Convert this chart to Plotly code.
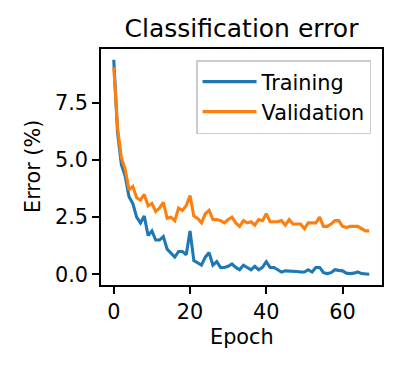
import plotly.graph_objects as go

epochs = list(range(68))
training = [9.4, 6.2, 4.8, 4.3, 3.4, 3.1, 2.5, 2.25, 2.55, 1.7,
            1.9, 1.5, 1.5, 1.65, 1.1, 0.9, 0.75, 1.0, 1.0, 0.85,
            1.9, 0.6, 0.5, 0.4, 0.75, 0.95, 0.4, 0.55, 0.3, 0.3,
            0.35, 0.45, 0.3, 0.2, 0.4, 0.3, 0.2, 0.35, 0.2, 0.3,
            0.55, 0.3, 0.3, 0.2, 0.1, 0.15, 0.15, 0.15, 0.12, 0.1,
            0.1, 0.2, 0.1, 0.3, 0.3, 0.07, 0.03, 0.07, 0.2, 0.17,
            0.15, 0.05, 0.03, 0.05, 0.1, 0.03, 0.0, 0.0]
validation = [9.07, 6.4, 5.1, 4.6, 3.7, 3.85, 3.35, 3.25, 3.5, 3.0,
              3.1, 2.75, 2.9, 3.15, 2.45, 2.5, 2.35, 2.9, 2.8, 3.0,
              3.45, 2.55, 2.45, 2.25, 2.65, 2.8, 2.4, 2.4, 2.35, 2.25,
              2.4, 2.5, 2.25, 2.1, 2.35, 2.25, 2.3, 2.15, 2.4, 2.35,
              2.65, 2.3, 2.3, 2.3, 2.35, 2.15, 2.4, 2.2, 2.2, 2.2,
              2.0, 2.25, 2.25, 2.25, 2.5, 2.1, 2.1, 2.2, 2.35, 2.35,
              2.1, 2.05, 2.1, 2.1, 2.1, 2.0, 1.9, 1.9]
x_ticks = [0, 20, 40, 60]
y_ticks = [0.0, 2.5, 5.0, 7.5]

FONT = "DejaVu Sans"

def padded(lo, hi, frac=0.05):
    r = hi - lo
    return [lo - frac * r, hi + frac * r]

fig = go.Figure()
fig.add_trace(go.Scatter(x=epochs, y=training, mode="lines", name="Training",
                         line=dict(color="#1f77b4", width=3.1)))
fig.add_trace(go.Scatter(x=epochs, y=validation, mode="lines", name="Validation",
                         line=dict(color="#ff7f0e", width=3.1)))

all_y = training + validation
fig.update_layout(
    template="none",
    width=402, height=367,
    margin=dict(l=101, r=20, t=49, b=82, pad=0),
    paper_bgcolor="white", plot_bgcolor="white",
    font=dict(family=FONT, size=20.8, color="black"),
    showlegend=True,
    legend=dict(x=0.961, y=0.953, xanchor="right", yanchor="top",
                bgcolor="rgba(255,255,255,0.8)", bordercolor="#cccccc", borderwidth=1.5,
                font=dict(family=FONT, size=20.8, color="black"),
                itemwidth=54, tracegroupgap=0),
    title=dict(text="Classification error", x=0.5, xref="paper", xanchor="center",
               y=1 - 28 / 367, yref="container", yanchor="middle",
               font=dict(family=FONT, size=25, color="black")),
    xaxis=dict(range=padded(min(epochs), max(epochs)), tickvals=x_ticks,
               automargin=False, showgrid=False, zeroline=False,
               showline=True, mirror=True, linecolor="black", linewidth=1.7,
               ticks="outside", ticklen=7, tickwidth=1.7, tickcolor="black",
               tickfont=dict(family=FONT, size=20.8, color="black")),
    yaxis=dict(range=padded(min(all_y), max(all_y)), tickvals=y_ticks, tickformat=".1f",
               automargin=False, showgrid=False, zeroline=False,
               showline=True, mirror=True, linecolor="black", linewidth=1.7,
               ticks="outside", ticklen=7, tickwidth=1.7, tickcolor="black",
               tickfont=dict(family=FONT, size=20.8, color="black")),
    annotations=[
        dict(text="Epoch", xref="paper", yref="paper", x=0.5, y=-(337 - 285) / 236,
             xanchor="center", yanchor="middle", showarrow=False,
             font=dict(family=FONT, size=20.8, color="black")),
        dict(text="Error (%)", xref="paper", yref="paper", x=-(101 - 33) / 281, y=0.5,
             xanchor="center", yanchor="middle", showarrow=False, textangle=-90,
             font=dict(family=FONT, size=20.8, color="black")),
    ],
)

fig.write_html("out.html", config={"displayModeBar": False},
               post_script="document.body.style.margin='0';document.body.style.overflow='hidden';")
